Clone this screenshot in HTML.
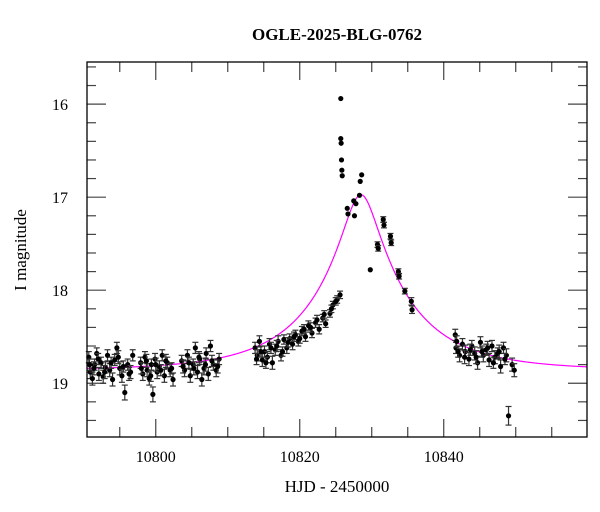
<!DOCTYPE html>
<html><head><meta charset="utf-8"><style>
html,body{margin:0;padding:0;background:#fff;}
svg{display:block;font-family:"Liberation Serif",serif;}
</style></head><body>
<svg id="chart" width="600" height="512" viewBox="0 0 600 512" xmlns="http://www.w3.org/2000/svg">
<rect x="0" y="0" width="600" height="512" fill="#fff"/>
<text x="337" y="40" text-anchor="middle" font-size="17" font-weight="bold">OGLE-2025-BLG-0762</text>
<text x="0" y="0" transform="translate(26,250) rotate(-90)" text-anchor="middle" font-size="17">I magnitude</text>
<text x="337" y="492" text-anchor="middle" font-size="17">HJD - 2450000</text>
<g id="ticks"></g>
<g id="model"></g>
<g id="points"></g>
<rect x="87" y="62" width="500" height="375" fill="none" stroke="#000" stroke-width="1.3"/>
</svg>
<script>
const times = [10790.7,10790.9,10791.2,10791.5,10791.8,10792.1,10792.4,10792.7,10793.0,10793.3,10793.6,10794.0,10794.3,10794.6,10795.0,10795.3,10795.7,10796.1,10796.5,10796.8,
10797.9,10798.2,10798.5,10798.8,10799.1,10799.4,10799.6,10799.9,10800.2,10800.5,10800.9,10801.2,10801.6,10802.0,10802.4,
10803.6,10804.0,10804.4,10804.8,10805.2,10805.5,10805.8,10806.1,10806.4,10806.7,10807.0,10807.3,10807.6,10808.0,10808.4,10808.8,
10813.8,10814.1,10814.4,10814.8,10815.1,10815.5,10815.8,10816.2,10816.6,10817.0,10817.4,10817.8,10818.2,10818.6,10819.0,10819.4,10819.8,10820.3,10820.8,10821.2,10821.7,10822.2,10822.7,10823.2,10823.6,10824.2,10824.6,10825.2,10825.6,
10825.7,10825.7,10825.75,10825.8,10825.85,10825.9,
10826.6,10826.7,10827.6,10827.8,10827.5,10828.3,10828.4,10828.6,10829.8,10830.8,10830.9,10831.6,10831.7,10832.6,10832.7,10833.7,10833.8,10834.6,10835.5,10835.6,
10841.6,10841.7,10841.8,10842.2,10842.6,10843.0,10843.5,10843.9,10844.3,10844.7,10845.1,10845.5,10845.9,10846.3,10846.7,10847.1,10847.5,10847.9,10848.3,10848.7,10849.0,10849.5,10849.8,
10790.8,10791.4,10792.0,10792.9,10793.8,10794.8,10795.5,10796.3,10798.0,10798.7,10799.3,10800.0,10800.7,10801.4,10802.2,10803.8,10804.6,10805.3,10806.0,10806.9,10807.8,10808.6,
10814.0,10814.6,10815.3,10816.0,10816.8,10817.6,10818.4,10819.2,10820.0,10820.6,10821.5,10822.4,10823.4,10824.4,10825.0,
10842.0,10842.9,10843.7,10844.5,10845.3,10846.1,10846.9,10847.7,10848.5];
const mags = [18.72,18.88,18.95,18.80,18.68,18.90,18.78,18.93,18.83,18.70,18.86,18.96,18.75,18.62,18.84,18.92,19.10,18.80,18.88,18.70,
18.78,18.90,18.72,18.86,18.95,18.80,19.12,18.74,18.88,18.82,18.70,18.92,18.78,18.86,18.96,
18.76,18.86,18.70,18.92,18.80,18.62,18.88,18.74,18.96,18.84,18.68,18.90,18.60,18.80,18.86,18.74,
18.62,18.70,18.55,18.75,18.66,18.72,18.58,18.78,18.64,18.55,18.70,18.53,18.62,18.52,18.58,18.48,18.55,18.44,18.50,18.38,18.46,18.35,18.42,18.30,18.36,18.25,18.16,18.10,18.05,
15.94,16.37,16.42,16.60,16.71,16.77,
17.12,17.18,17.20,17.07,17.04,16.98,16.83,16.76,17.78,17.51,17.55,17.24,17.30,17.42,17.49,17.80,17.85,18.01,18.12,18.21,
18.48,18.62,18.55,18.70,18.58,18.66,18.74,18.60,18.68,18.78,18.56,18.70,18.64,18.75,18.60,18.72,18.68,18.82,18.62,18.70,19.35,18.80,18.86,
18.80,18.84,18.74,18.88,18.78,18.72,18.82,18.90,18.84,18.76,18.92,18.80,18.86,18.76,18.84,18.82,18.78,18.84,18.72,18.80,18.76,18.82,
18.74,18.66,18.78,18.62,18.60,18.66,18.56,18.50,18.52,18.42,18.40,18.32,18.26,18.20,18.12,
18.66,18.72,18.64,18.72,18.66,18.62,18.78,18.66,18.74];
const errs = [0.06,0.07,0.07,0.06,0.06,0.07,0.06,0.07,0.06,0.06,0.07,0.07,0.06,0.06,0.07,0.07,0.08,0.06,0.07,0.06,
0.06,0.07,0.06,0.07,0.07,0.06,0.08,0.06,0.07,0.06,0.06,0.07,0.06,0.07,0.07,
0.06,0.07,0.06,0.07,0.06,0.06,0.07,0.06,0.07,0.07,0.06,0.07,0.06,0.06,0.07,0.06,
0.06,0.06,0.06,0.07,0.06,0.06,0.06,0.07,0.06,0.06,0.06,0.05,0.06,0.05,0.06,0.05,0.05,0.05,0.05,0.05,0.05,0.05,0.05,0.04,0.04,0.04,0.04,0.04,0.04,
0.01,0.01,0.01,0.01,0.01,0.01,
0.02,0.02,0.02,0.02,0.02,0.02,0.02,0.02,0.02,0.03,0.03,0.03,0.03,0.03,0.03,0.03,0.03,0.03,0.04,0.04,
0.06,0.06,0.06,0.07,0.06,0.07,0.07,0.06,0.07,0.07,0.06,0.07,0.06,0.07,0.06,0.07,0.06,0.07,0.06,0.07,0.10,0.07,0.07,
0.06,0.07,0.06,0.07,0.06,0.07,0.06,0.07,0.06,0.07,0.06,0.07,0.06,0.07,0.06,0.07,0.06,0.07,0.06,0.07,0.06,0.07,
0.06,0.06,0.06,0.06,0.06,0.05,0.05,0.05,0.05,0.05,0.05,0.05,0.04,0.04,0.04,
0.06,0.07,0.06,0.07,0.06,0.07,0.06,0.07,0.06];
const xTicksMajor = [10800,10820,10840];
const yTicksMajor = [16,17,18,19];
const model = {t0:10828.5, u0:0.178, tE:13.0, base:18.86};

const X0=87,X1=587,Y0=62,Y1=437, TMIN=10790.45, TMAX=10859.9, MMIN=15.547, MMAX=19.578;
const xs = t => X0 + (t-TMIN)/(TMAX-TMIN)*(X1-X0);
const ys = m => Y0 + (m-MMIN)/(MMAX-MMIN)*(Y1-Y0);
const NS="http://www.w3.org/2000/svg";
function mk(tag, attrs, parent){const e=document.createElementNS(NS,tag);for(const k in attrs)e.setAttribute(k,attrs[k]);parent.appendChild(e);return e;}

const tg=document.getElementById('ticks');
for(let t=10795;t<=10860;t+=5){
  if(t<=TMIN||t>=TMAX) continue;
  const maj = xTicksMajor.includes(t);
  const L = maj?18:10, x=xs(t);
  const a=mk('line',{x1:x,x2:x,y1:Y1,y2:Y1-L,stroke:'#444','stroke-width':1.2},tg);
  
  
  const b=mk('line',{x1:x,x2:x,y1:Y0,y2:Y0+L,stroke:'#444','stroke-width':1.2},tg);
  
  
}
xTicksMajor.forEach(t=>{
  const tx=mk('text',{x:xs(t),y:462,'text-anchor':'middle','font-size':16},tg);
  tx.textContent=t;
  
  
});
for(let i=78;i<=97;i++){
  const m=i/5;
  if(m<=MMIN||m>=MMAX) continue;
  const maj = Math.abs(m-Math.round(m))<1e-6;
  const L = maj?19:9, y=ys(m);
  const a=mk('line',{x1:X0,x2:X0+L,y1:y,y2:y,stroke:'#444','stroke-width':1.2},tg);
  
  
  const b=mk('line',{x1:X1,x2:X1-L,y1:y,y2:y,stroke:'#444','stroke-width':1.2},tg);
  
  
}
yTicksMajor.forEach(m=>{
  const tx=mk('text',{x:60,y:ys(m)+6,'text-anchor':'middle','font-size':16},tg);
  tx.textContent=m;
  
  
});

let d='';
for(let i=0;i<=600;i++){
  const t=TMIN+(TMAX-TMIN)*i/600;
  const tau=(t-model.t0)/model.tE;
  const u=Math.sqrt(model.u0*model.u0+tau*tau);
  const A=(u*u+2)/(u*Math.sqrt(u*u+4));
  const m=model.base-2.5*Math.log10(A);
  d+=(i?'L':'M')+xs(t).toFixed(2)+','+ys(m).toFixed(2);
}
const mp=mk('path',{d:d,fill:'none',stroke:'#ff00ff','stroke-width':1.2},document.getElementById('model'));



const pg=document.getElementById('points');
for(let i=0;i<times.length;i++){
  const x=xs(times[i]), y=ys(mags[i]), ya=ys(mags[i]-errs[i]), yb=ys(mags[i]+errs[i]);
  const g=mk('g',{},pg);
  
  
  if(yb-ya>4){
    mk('line',{x1:x,x2:x,y1:ya,y2:yb,stroke:'#333','stroke-width':1.2},g);
    mk('line',{x1:x-3,x2:x+3,y1:ya,y2:ya,stroke:'#333','stroke-width':1.2},g);
    mk('line',{x1:x-3,x2:x+3,y1:yb,y2:yb,stroke:'#333','stroke-width':1.2},g);
  }
  mk('circle',{cx:x,cy:y,r:2.6,fill:'#000'},g);
}
</script>
</body></html>
